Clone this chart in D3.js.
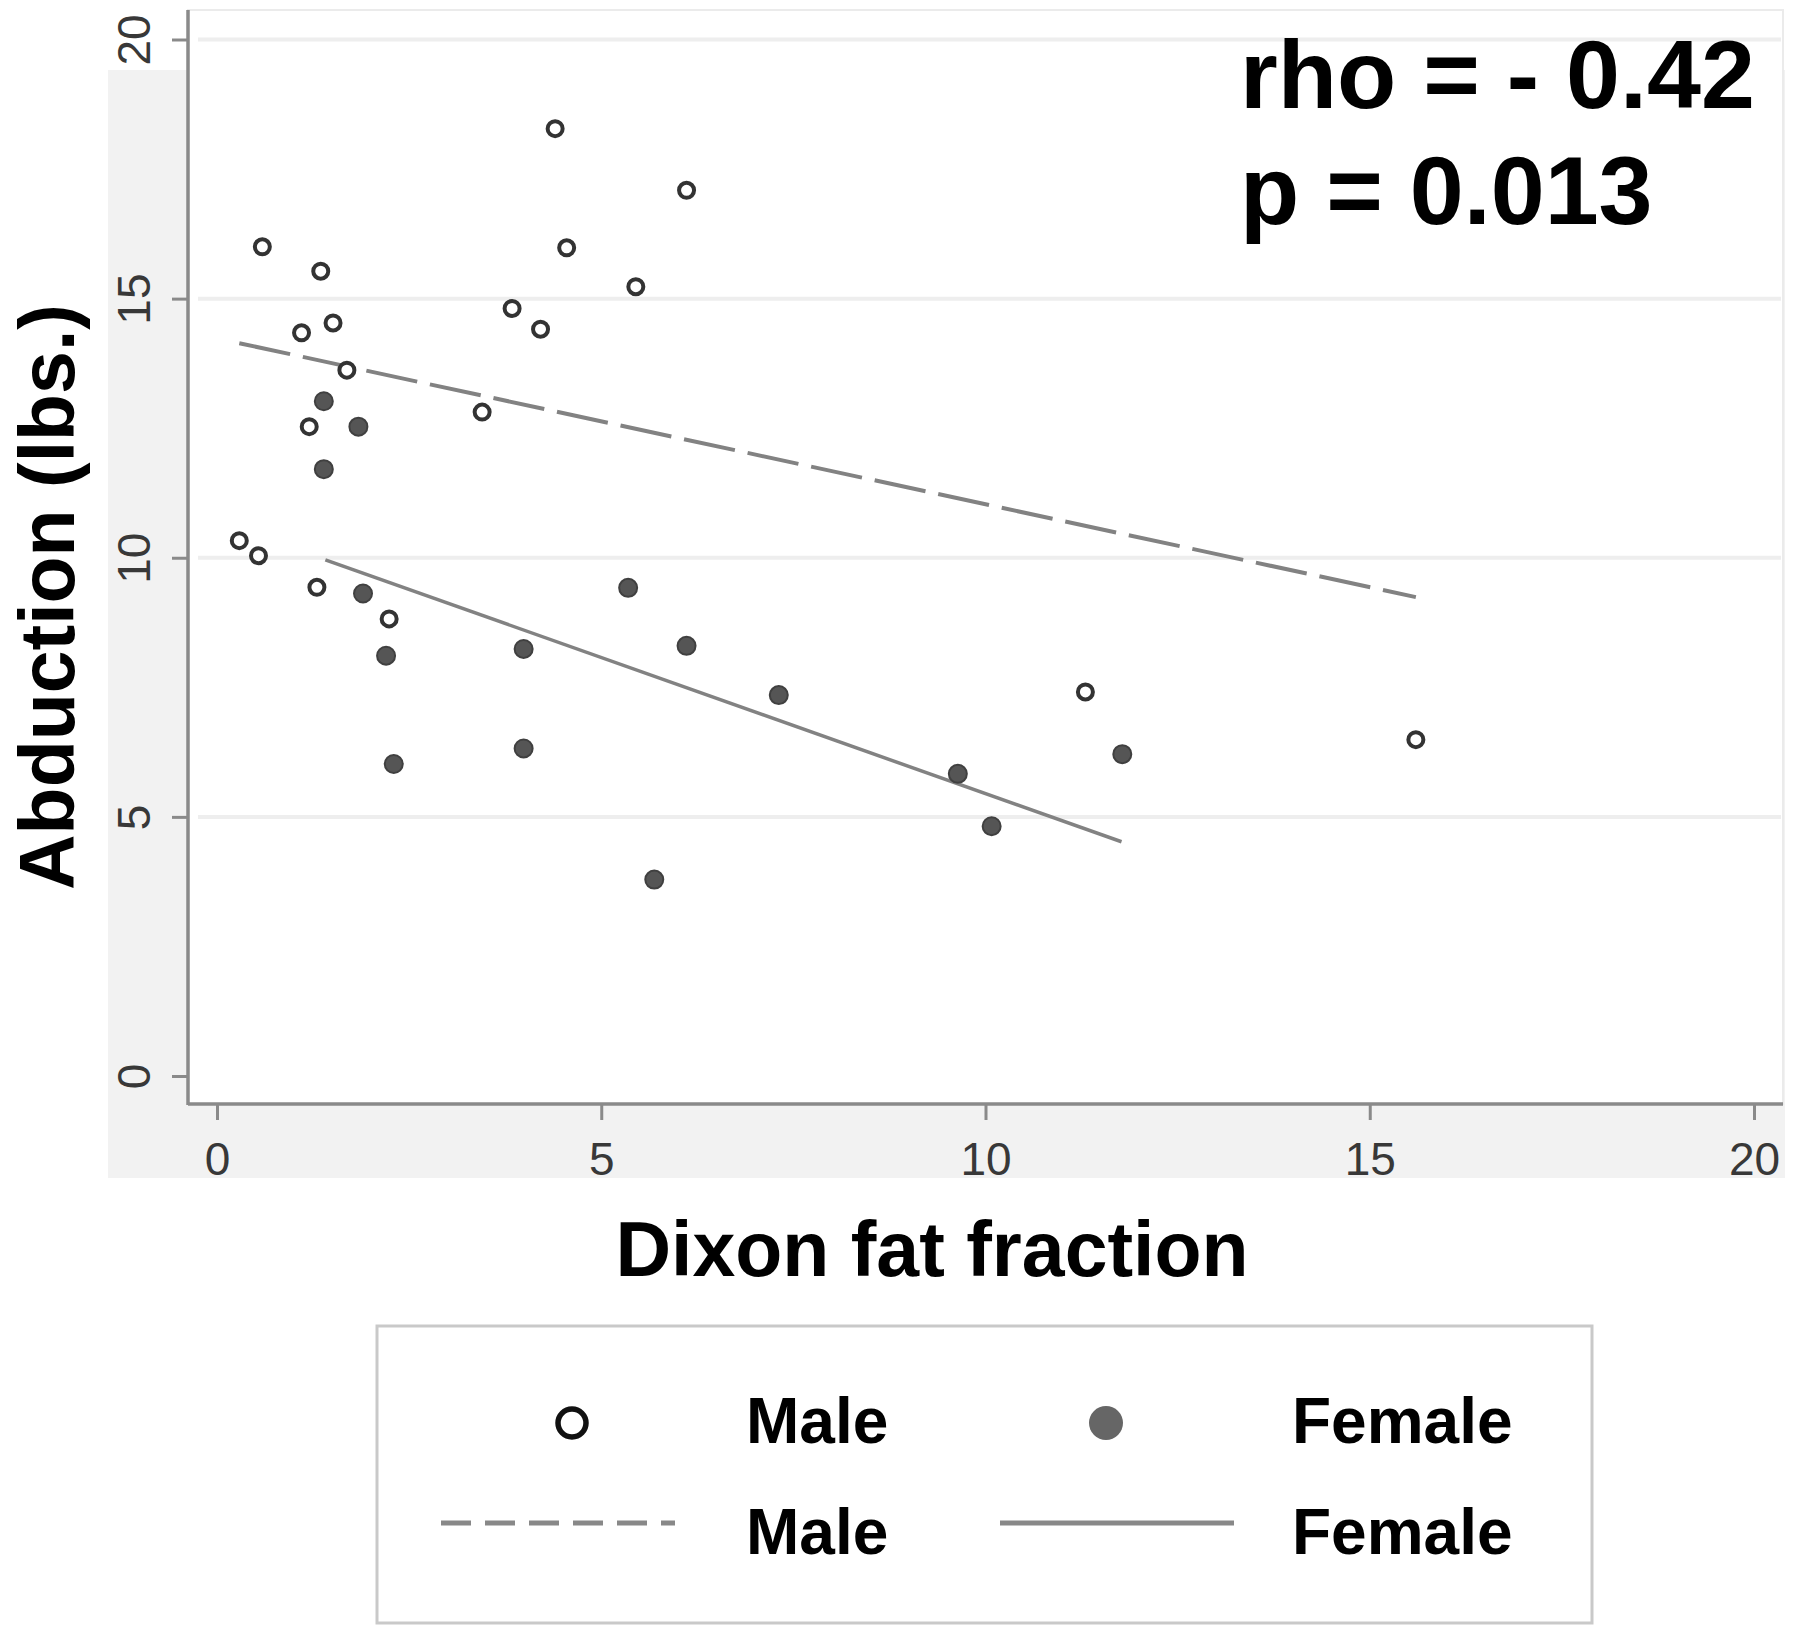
<!DOCTYPE html>
<html>
<head>
<meta charset="utf-8">
<script src="https://cdn.jsdelivr.net/npm/d3@7"></script>
<style>
  html, body { margin: 0; padding: 0; background: #ffffff; }
  svg { display: block; font-family: "Liberation Sans", Arial, sans-serif; }
</style>
</head>
<body>
<svg id="chart" width="1800" height="1637"></svg>
<script>
// ---------------- data ----------------
const maleX = [0.59, 1.35, 1.10, 1.51, 1.69, 1.20, 0.29, 0.54, 1.30, 2.24, 3.45, 3.84, 4.21, 4.40, 4.55, 5.45, 6.11, 11.30, 15.60];
const maleY = [16.00, 15.53, 14.34, 14.53, 13.62, 12.53, 10.33, 10.04, 9.43, 8.82, 12.81, 14.81, 14.41, 18.28, 15.98, 15.23, 17.09, 7.41, 6.49];

const femaleX = [1.39, 1.39, 1.84, 1.90, 2.20, 2.30, 3.99, 3.99, 5.35, 5.69, 6.11, 7.31, 9.64, 10.08, 11.78];
const femaleY = [13.02, 11.71, 12.53, 9.31, 8.11, 6.02, 8.24, 6.32, 9.42, 3.79, 8.30, 7.35, 5.83, 4.82, 6.21];

// fitted lines (endpoints)
const maleFitX = [0.29, 15.60];
const maleFitY = [14.14, 9.24];
const femaleFitX = [1.41, 11.77];
const femaleFitY = [9.96, 4.52];

const xTicks = [0, 5, 10, 15, 20];
const yTicks = [0, 5, 10, 15, 20];
const gridValues = [5, 10, 15, 20];

const xTitle = "Dixon fat fraction";
const yTitle = "Abduction (lbs.)";
const statLines = ["rho = - 0.42", "p = 0.013"];
const legendLabels = ["Male", "Female"];

// ---------------- layout ----------------
const svg = d3.select("#chart");
const FONT = '"Liberation Sans", Arial, sans-serif';

const plotLeft = 188, plotRight = 1783, plotTop = 10, plotBottom = 1104;

const x = d3.scaleLinear().domain([0, 20]).range([217, 1754]);
const y = d3.scaleLinear().domain([0, 20]).range([1076, 39.5]);

// outer grey region (L-shaped band visible left & bottom)
svg.append("rect")
  .attr("x", 108).attr("y", 70)
  .attr("width", 1785 - 108).attr("height", 1178 - 70)
  .attr("fill", "#f2f2f2");

// plot region
svg.append("rect")
  .attr("x", plotLeft).attr("y", plotTop)
  .attr("width", plotRight - plotLeft).attr("height", plotBottom - plotTop)
  .attr("fill", "#ffffff")
  .attr("stroke", "#ebebeb").attr("stroke-width", 2);

// gridlines
svg.append("g").selectAll("line").data(gridValues).join("line")
  .attr("x1", plotLeft + 10).attr("x2", plotRight - 2)
  .attr("y1", d => y(d)).attr("y2", d => y(d))
  .attr("stroke", "#eeeeee").attr("stroke-width", 4);

// axes
const yAxis = svg.append("g")
  .attr("transform", `translate(${plotLeft},0)`)
  .call(d3.axisLeft(y).tickValues(yTicks).tickSize(16).tickFormat(d3.format("d")));
yAxis.select(".domain").remove();
yAxis.selectAll(".tick line").attr("stroke", "#8a8a8a").attr("stroke-width", 3);
yAxis.selectAll(".tick text")
  .attr("x", null).attr("dy", null)
  .attr("transform", "translate(-38,0) rotate(-90)")
  .attr("text-anchor", "middle")
  .attr("font-family", FONT).attr("font-size", 46).attr("fill", "#383838");

const xAxis = svg.append("g")
  .attr("transform", `translate(0,${plotBottom})`)
  .call(d3.axisBottom(x).tickValues(xTicks).tickSize(16).tickFormat(d3.format("d")));
xAxis.select(".domain").remove();
xAxis.selectAll(".tick line").attr("stroke", "#8a8a8a").attr("stroke-width", 3);
xAxis.selectAll(".tick text")
  .attr("y", 71).attr("dy", null)
  .attr("text-anchor", "middle")
  .attr("font-family", FONT).attr("font-size", 46).attr("fill", "#383838");

// axis lines
svg.append("line")
  .attr("x1", plotLeft).attr("x2", plotLeft)
  .attr("y1", plotTop).attr("y2", plotBottom + 1)
  .attr("stroke", "#8a8a8a").attr("stroke-width", 3.5);
svg.append("line")
  .attr("x1", plotLeft).attr("x2", plotRight)
  .attr("y1", plotBottom).attr("y2", plotBottom)
  .attr("stroke", "#8a8a8a").attr("stroke-width", 3.5);

// fit lines
const line = d3.line().x(d => x(d[0])).y(d => y(d[1]));
svg.append("path")
  .datum(maleFitX.map((v, i) => [v, maleFitY[i]]))
  .attr("d", line)
  .attr("fill", "none").attr("stroke", "#828282").attr("stroke-width", 4)
  .attr("stroke-dasharray", "52,13");
svg.append("path")
  .datum(femaleFitX.map((v, i) => [v, femaleFitY[i]]))
  .attr("d", line)
  .attr("fill", "none").attr("stroke", "#828282").attr("stroke-width", 3.5);

// points
svg.append("g").selectAll("circle")
  .data(femaleX.map((v, i) => [v, femaleY[i]])).join("circle")
  .attr("cx", d => x(d[0])).attr("cy", d => y(d[1]))
  .attr("r", 9)
  .attr("fill", "#555555").attr("stroke", "#404040").attr("stroke-width", 2);

svg.append("g").selectAll("circle")
  .data(maleX.map((v, i) => [v, maleY[i]])).join("circle")
  .attr("cx", d => x(d[0])).attr("cy", d => y(d[1]))
  .attr("r", 7.5)
  .attr("fill", "#ffffff").attr("stroke", "#333333").attr("stroke-width", 4);

// stats text
svg.append("g").selectAll("text").data(statLines).join("text")
  .attr("x", 1240)
  .attr("y", (d, i) => 108 + i * 116)
  .attr("font-family", FONT).attr("font-weight", "bold").attr("font-size", 97)
  .attr("fill", "#000").text(d => d);

// axis titles
svg.append("text")
  .attr("transform", "translate(74,597) rotate(-90)")
  .attr("text-anchor", "middle")
  .attr("font-family", FONT).attr("font-weight", "bold").attr("font-size", 77)
  .attr("fill", "#000").text(yTitle);

svg.append("text")
  .attr("x", 932).attr("y", 1276)
  .attr("text-anchor", "middle")
  .attr("font-family", FONT).attr("font-weight", "bold").attr("font-size", 77)
  .attr("fill", "#000").text(xTitle);

// legend
const lg = svg.append("g");
lg.append("rect")
  .attr("x", 377).attr("y", 1326)
  .attr("width", 1592 - 377).attr("height", 1623 - 1326)
  .attr("fill", "#ffffff").attr("stroke", "#c9c9c9").attr("stroke-width", 3);

lg.append("circle").attr("cx", 572).attr("cy", 1423).attr("r", 14)
  .attr("fill", "#fff").attr("stroke", "#111").attr("stroke-width", 5.5);
lg.append("circle").attr("cx", 1106).attr("cy", 1423).attr("r", 17)
  .attr("fill", "#666666");

lg.append("line").attr("x1", 441).attr("x2", 675).attr("y1", 1523).attr("y2", 1523)
  .attr("stroke", "#888888").attr("stroke-width", 5).attr("stroke-dasharray", "30,14");
lg.append("line").attr("x1", 1000).attr("x2", 1234).attr("y1", 1523).attr("y2", 1523)
  .attr("stroke", "#888888").attr("stroke-width", 5);

const legendRows = [1443, 1554];
legendRows.forEach(by => {
  lg.append("text").attr("x", 746).attr("y", by)
    .attr("font-family", FONT).attr("font-weight", "bold").attr("font-size", 64)
    .attr("fill", "#000").text(legendLabels[0]);
  lg.append("text").attr("x", 1292).attr("y", by)
    .attr("font-family", FONT).attr("font-weight", "bold").attr("font-size", 64)
    .attr("fill", "#000").text(legendLabels[1]);
});
</script>
</body>
</html>
